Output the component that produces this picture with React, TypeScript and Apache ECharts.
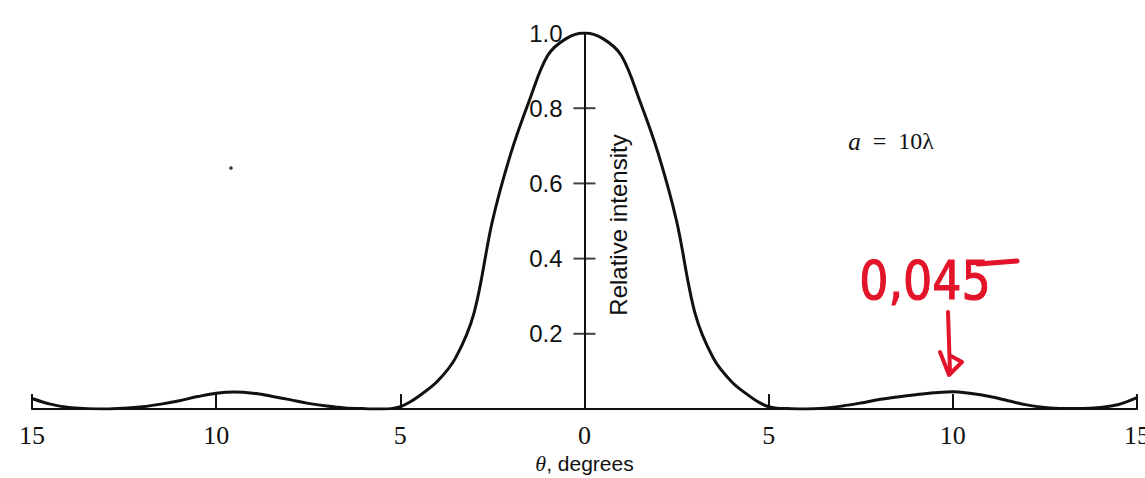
import React, { useEffect, useRef } from "react";
import * as echarts from "echarts";

// θ in degrees (negative = left of centre; labels show absolute values)
const thetaDegrees = [
  -15, -14.5, -14, -13.5, -13, -12.5, -12, -11.5, -11, -10.5, -10, -9.5, -9, -8.5, -8, -7.5, -7, -6.5, -6, -5.5,
  -5.25, -5, -4.75, -4.5, -4, -3.5, -3, -2.5, -2, -1.5, -1, -0.5, 0, 0.5, 1, 1.5, 2, 2.5, 3, 3.5, 4, 4.5, 4.75,
  5, 5.25, 5.5, 6, 6.5, 7, 7.5, 8, 8.5, 9, 9.5, 10, 10.5, 11, 11.5, 12, 12.5, 13, 13.5, 14, 14.5, 15,
];

const relativeIntensity = [
  0.028, 0.013, 0.004, 0.001, 0.0, 0.002, 0.006, 0.013, 0.022, 0.033, 0.042, 0.045, 0.042, 0.034, 0.025, 0.015, 0.008, 0.003, 0.001, 0.0,
  0.001, 0.006, 0.018, 0.034, 0.073, 0.136, 0.255, 0.5, 0.68, 0.82, 0.94, 0.985, 1.0, 0.985, 0.94, 0.82, 0.68, 0.5, 0.255, 0.135, 0.072, 0.033, 0.017,
  0.006, 0.002, 0.001, 0.0, 0.002, 0.008, 0.016, 0.025, 0.032, 0.038, 0.043, 0.046, 0.041, 0.033, 0.022, 0.011, 0.004, 0.001, 0.001, 0.004, 0.012, 0.03,
];

const yTickValues = [0.2, 0.4, 0.6, 0.8];
const yAxisTitle = "Relative intensity";
const handNote = "0,045";

export default function App() {
  const ref = useRef<HTMLDivElement>(null);

  useEffect(() => {
    if (!ref.current) return;
    const chart = echarts.init(ref.current, undefined, { renderer: "svg" });
    const red = "#e3142a";
    const gridLeft = 32;
    const gridWidth = 1145 - 32 - 8;
    chart.setOption({
      animation: false,
      backgroundColor: "#ffffff",
      grid: { left: gridLeft, right: 8, top: 33, bottom: 69, containLabel: false, outerBoundsMode: "none" },
      xAxis: {
        type: "value",
        min: -15,
        max: 15,
        interval: 5,
        axisLine: { onZero: false, lineStyle: { color: "#111", width: 2 } },
        axisTick: { show: true, inside: true, length: 15, lineStyle: { color: "#111", width: 2 } },
        splitLine: { show: false },
        axisLabel: {
          margin: 13,
          color: "#111",
          fontFamily: "Liberation Serif",
          fontSize: 26,
          formatter: (v: number) => String(Math.abs(v)),
        },
        name: "{i|θ}, degrees",
        nameLocation: "middle",
        nameGap: 42,
        nameTextStyle: {
          color: "#111",
          fontFamily: "Liberation Sans",
          fontSize: 21,
          rich: { i: { fontStyle: "italic", fontFamily: "Liberation Serif", fontSize: 22, color: "#111" } },
        },
      },
      yAxis: {
        type: "value",
        min: 0,
        max: 1,
        interval: 0.2,
        offset: -gridWidth / 2,
        axisLine: { show: true, onZero: false, lineStyle: { color: "#111", width: 2 } },
        axisTick: { show: false },
        splitLine: { show: false },
        axisLabel: {
          margin: 22,
          color: "#111",
          fontFamily: "Liberation Sans",
          fontSize: 24,
          formatter: (v: number) => (v === 0 ? "" : v.toFixed(1)),
        },
      },
      series: [
        {
          type: "line",
          data: thetaDegrees.map((t, i) => [t, relativeIntensity[i]]),
          smooth: 0.35,
          showSymbol: false,
          lineStyle: { color: "#111", width: 3 },
          z: 3,
        },
        {
          type: "scatter",
          data: yTickValues.map((v) => [0, v]),
          symbol: "rect",
          symbolSize: [22, 2],
          itemStyle: { color: "#111" },
          z: 4,
        },
      ],
      graphic: [
        {
          type: "text",
          x: 618,
          y: 225,
          rotation: Math.PI / 2,
          style: {
            text: yAxisTitle,
            x: 0,
            y: 0,
            align: "center",
            verticalAlign: "middle",
            fontFamily: "Liberation Sans",
            fontSize: 24,
            fill: "#111",
          },
        },
        {
          type: "text",
          x: 891,
          y: 141,
          style: {
            text: "{i|a}  =  10λ",
            align: "center",
            verticalAlign: "middle",
            fontFamily: "Liberation Serif",
            fontSize: 24,
            fill: "#111",
            rich: { i: { fontStyle: "italic", fontFamily: "Liberation Serif", fontSize: 25, fill: "#111" } },
          },
        },
        {
          type: "text",
          x: 925,
          y: 281,
          scaleY: 1.15,
          style: {
            text: handNote,
            align: "center",
            verticalAlign: "middle",
            fontFamily: "DejaVu Sans",
            fontSize: 46,
            fill: red,
            stroke: red,
            lineWidth: 1,
          },
        },
        {
          type: "line",
          shape: { x1: 978, y1: 264, x2: 1017, y2: 261 },
          style: { stroke: red, lineWidth: 5, lineCap: "round" },
        },
        {
          type: "line",
          shape: { x1: 948, y1: 312, x2: 950, y2: 372 },
          style: { stroke: red, lineWidth: 4, lineCap: "round" },
        },
        {
          type: "polyline",
          shape: { points: [[940, 352], [949, 375], [962, 362], [951, 356]] },
          style: { stroke: red, lineWidth: 4, fill: "none", lineJoin: "round", lineCap: "round" },
        },
        {
          type: "circle",
          shape: { cx: 231, cy: 168, r: 1.8 },
          style: { fill: "#333" },
        },
      ],
    });
    return () => chart.dispose();
  }, []);

  return (
    <div
      ref={ref}
      style={{ position: "absolute", left: 0, top: 0, width: 1145, height: 478, background: "#fff" }}
    />
  );
}
